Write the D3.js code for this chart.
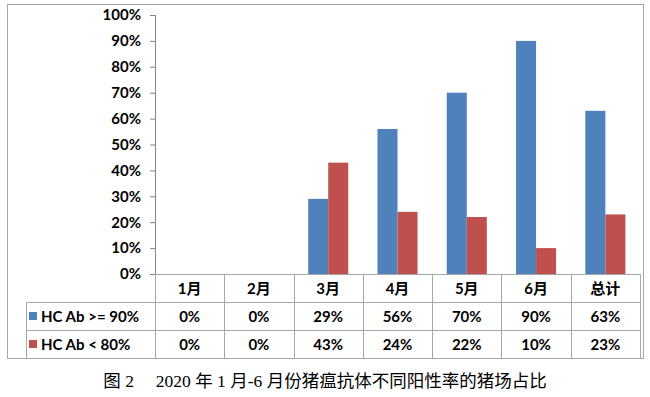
<!DOCTYPE html>
<html>
<head>
<meta charset="utf-8">
<script src="https://cdn.jsdelivr.net/npm/d3@7"></script>
<style>
  body { margin: 0; background: #fff; }
  svg text { font-family: Lato, "Noto Sans CJK SC", sans-serif; font-weight: bold; fill: #000; }
</style>
</head>
<body>
<script>
// chart data
var categories = ["1月", "2月", "3月", "4月", "5月", "6月", "总计"];
var seriesNames = ["HC Ab >= 90%", "HC Ab < 80%"];
var highValues = [0, 0, 0.29, 0.56, 0.70, 0.90, 0.63];
var lowValues = [0, 0, 0.43, 0.24, 0.22, 0.10, 0.23];
var yTicks = [0, 0.1, 0.2, 0.3, 0.4, 0.5, 0.6, 0.7, 0.8, 0.9, 1.0];
var caption = "图 2\u3000 2020 年 1 月-6 月份猪瘟抗体不同阳性率的猪场占比";

var colors = ["#4F81BD", "#C0504D"];
var lineColor = "#a6a6a6";

var seriesValues = [highValues, lowValues];

var svg = d3.select("body").append("svg")
    .attr("width", 650)
    .attr("height", 397);

// outer frame
svg.append("rect")
    .attr("x", 7.5).attr("y", 4.5)
    .attr("width", 636).attr("height", 354)
    .attr("fill", "none")
    .attr("stroke", lineColor);

var plotLeft = 155, plotRight = 640, plotTop = 15, plotBottom = 274;
var rowH = 28;

var x0 = d3.scaleBand().domain(categories).range([plotLeft, plotRight]);
var x1 = d3.scaleBand().domain(d3.range(seriesNames.length))
    .range([0, x0.bandwidth()]).paddingOuter(0.73);
var y = d3.scaleLinear().domain([0, 1]).range([plotBottom, plotTop]);

// bars
var groups = svg.selectAll("g.cat")
    .data(categories)
    .enter().append("g")
    .attr("class", "cat")
    .attr("transform", function (d) { return "translate(" + x0(d) + ",0)"; });

groups.selectAll("rect")
    .data(function (d, i) { return seriesValues.map(function (s, j) { return { s: j, v: s[i] }; }); })
    .enter().append("rect")
    .attr("x", function (d) { return x1(d.s); })
    .attr("width", x1.bandwidth())
    .attr("y", function (d) { return y(d.v); })
    .attr("height", function (d) { return plotBottom - y(d.v); })
    .attr("fill", function (d) { return colors[d.s]; });

// y axis
var yAxis = svg.append("g")
    .attr("transform", "translate(" + plotLeft + ",0)")
    .call(d3.axisLeft(y).tickValues(yTicks).tickFormat(d3.format(".0%")).tickSize(5).tickPadding(9));
yAxis.selectAll("line, path").attr("stroke", "#868686");
yAxis.select(".domain").attr("d", "M0.5," + plotTop + "V" + plotBottom);
yAxis.selectAll("text").style("font-size", "15px").attr("fill", "#000");

// data table
var tableBottom = plotBottom + rowH * 3;
var legendLeft = 26;
var t = svg.append("g").attr("stroke", lineColor).attr("fill", "none");

t.append("line").attr("x1", plotLeft).attr("x2", plotRight).attr("y1", plotBottom + 0.5).attr("y2", plotBottom + 0.5);
[1, 2, 3].forEach(function (r) {
  t.append("line").attr("x1", legendLeft).attr("x2", plotRight)
    .attr("y1", plotBottom + rowH * r + 0.5).attr("y2", plotBottom + rowH * r + 0.5);
});
t.append("line").attr("x1", legendLeft + 0.5).attr("x2", legendLeft + 0.5)
  .attr("y1", plotBottom + rowH).attr("y2", tableBottom);
categories.forEach(function (c) {
  t.append("line").attr("x1", Math.round(x0(c)) + 0.5).attr("x2", Math.round(x0(c)) + 0.5)
    .attr("y1", plotBottom).attr("y2", tableBottom);
});
t.append("line").attr("x1", plotRight + 0.5).attr("x2", plotRight + 0.5)
  .attr("y1", plotBottom).attr("y2", tableBottom);

// header row
svg.selectAll("text.cat")
    .data(categories)
    .enter().append("text")
    .attr("class", "cat")
    .attr("x", function (d) { return x0(d) + x0.bandwidth() / 2; })
    .attr("y", plotBottom + rowH / 2 + 6)
    .attr("text-anchor", "middle")
    .style("font-size", "15px")
    .text(function (d) { return d; });

// value rows
seriesValues.forEach(function (s, j) {
  var rowY = plotBottom + rowH * (j + 1);
  svg.append("rect")
      .attr("x", legendLeft + 3).attr("y", rowY + rowH / 2 - 4)
      .attr("width", 8).attr("height", 8)
      .attr("fill", colors[j]);
  svg.append("text")
      .attr("x", legendLeft + 15).attr("y", rowY + rowH / 2 + 6)
      .style("font-size", "15px")
      .text(seriesNames[j]);
  svg.selectAll("text.v" + j)
      .data(s)
      .enter().append("text")
      .attr("class", "v" + j)
      .attr("x", function (d, i) { return x0(categories[i]) + x0.bandwidth() / 2; })
      .attr("y", rowY + rowH / 2 + 6)
      .attr("text-anchor", "middle")
      .style("font-size", "15px")
      .text(function (d) { return d3.format(".0%")(d); });
});

// caption
svg.append("text")
    .attr("x", 325).attr("y", 387)
    .attr("text-anchor", "middle")
    .style("font-family", "'Liberation Serif', 'Noto Sans CJK SC', serif")
    .style("font-weight", "normal")
    .style("font-size", "17.5px")
    .attr("fill", "#222")
    .text(caption);
</script>
</body>
</html>
